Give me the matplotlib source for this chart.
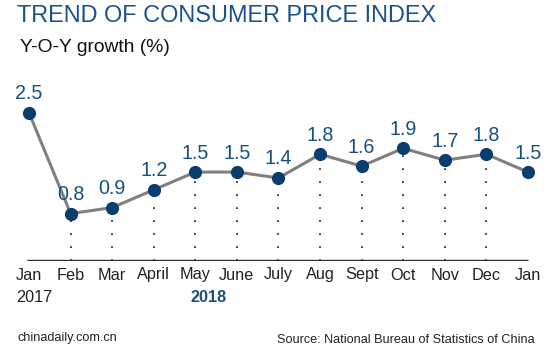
import matplotlib
matplotlib.use("Agg")
import matplotlib.pyplot as plt

months = ["Jan", "Feb", "Mar", "April", "May", "June", "July", "Aug",
          "Sept", "Oct", "Nov", "Dec", "Jan"]
cpi = [2.5, 0.8, 0.9, 1.2, 1.5, 1.5, 1.4, 1.8, 1.6, 1.9, 1.7, 1.8, 1.5]
value_labels = ["2.5", "0.8", "0.9", "1.2", "1.5", "1.5", "1.4", "1.8",
                "1.6", "1.9", "1.7", "1.8", "1.5"]

plt.rcParams['font.family'] = ['Liberation Sans', 'DejaVu Sans']

W, H = 550, 350
fig = plt.figure(figsize=(5.5, 3.5), dpi=100)
fig.patch.set_facecolor('white')

# axes: value 0 at pixel y=261, top of figure at pixel 0
ax = fig.add_axes([0, (H - 261) / H, 1, 261 / H])
step = 41.58
x0 = 29
ax.set_xlim(-x0 / step, (W - x0) / step)
ppu = 59.3
ax.set_ylim(0, 261 / ppu)
ax.axis('off')

xs = list(range(len(cpi)))

# dotted guide lines (Feb to Dec)
for i in xs[1:-1]:
    ax.plot([i, i], [0, cpi[i]], color='#333333', lw=1.3,
            linestyle=(0, (1, 6.2)), zorder=1)

# baseline
ax.plot([-0.05, xs[-1]], [0, 0], color='#2e2e2e', lw=2.4,
        solid_capstyle='butt', zorder=2)

# line and markers
ax.plot(xs, cpi, color='#808080', lw=2.2, zorder=3)
ax.plot(xs, cpi, 'o', color='#0b3d6e', markersize=9.5, zorder=4,
        markeredgewidth=0)

label_color = '#1a4f80'
for i, v in enumerate(cpi):
    ax.annotate(value_labels[i], (i, v), xytext=(0, 19),
                textcoords='offset pixels', ha='center', va='center',
                fontsize=14.2, color=label_color, zorder=5)

# month labels
for i, m in enumerate(months):
    ax.annotate(m, (i, 0), xytext=(0, -14), textcoords='offset pixels',
                ha='center', va='center', fontsize=11.7, color='#222222',
                annotation_clip=False)

ax.annotate("2017", (0, 0), xytext=(5, -37), textcoords='offset pixels',
            ha='center', va='center', fontsize=11.7, color='#222222',
            annotation_clip=False)
ax.annotate("2018", (4, 0), xytext=(13, -37), textcoords='offset pixels',
            ha='center', va='center', fontsize=11.7, color=label_color,
            fontweight='bold', annotation_clip=False)

# titles
fig.text(17 / W, 1 - 16 / H, "TREND OF CONSUMER PRICE INDEX",
         fontsize=16.9, color='#1c5190', ha='left', va='center')
fig.text(20 / W, 1 - 47.5 / H, "Y-O-Y growth (%)",
         fontsize=13.9, color='#111111', ha='left', va='center')

# footer
fig.text(18 / W, 1 - 338 / H, "chinadaily.com.cn", fontsize=9.1,
         color='#222222', ha='left', va='center')
fig.text(535 / W, 1 - 340 / H, "Source: National Bureau of Statistics of China",
         fontsize=9.1, color='#222222', ha='right', va='center')

fig.savefig("out.png", dpi=100, facecolor='white')
